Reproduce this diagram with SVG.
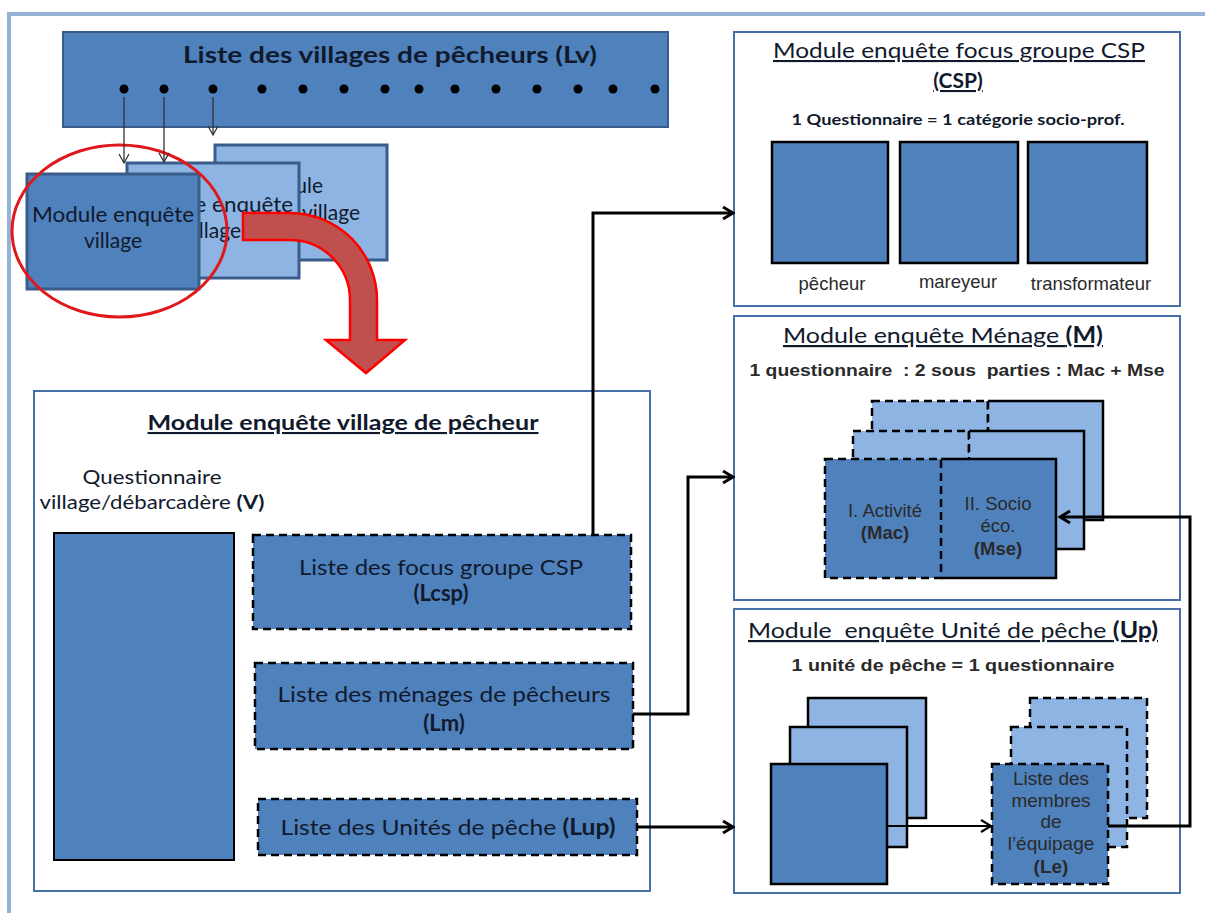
<svg xmlns="http://www.w3.org/2000/svg" width="1205" height="913" viewBox="0 0 1205 913">
<style>
.cal{font-family:Lato,"Liberation Sans",sans-serif;fill:#111a2c}
.ar{font-family:"Liberation Sans",Arial,sans-serif;fill:#2a2a2a}
.b{font-weight:bold}
.u{text-decoration:underline}
.frame{fill:#fff;stroke:#4670a8;stroke-width:2}
.dk{fill:#4f81bd}
.lt{fill:#8eb4e3}
.vb{stroke:#385d8a;stroke-width:3}
.sol{stroke:#000;stroke-width:2.5}
.dash{stroke:#000;stroke-width:2.5;stroke-dasharray:8 5}
.conn{fill:none;stroke:#000;stroke-width:3}
.thin{fill:none;stroke:#333;stroke-width:1.3}
</style>
<defs>
<marker id="ah" markerUnits="userSpaceOnUse" markerWidth="14" markerHeight="16" refX="12" refY="8" orient="auto">
<path d="M2,2 L12,8 L2,14" fill="none" stroke="#000" stroke-width="3"/>
</marker>
<marker id="ah2" markerUnits="userSpaceOnUse" markerWidth="14" markerHeight="16" refX="12" refY="8" orient="auto">
<path d="M2,2 L12,8 L2,14" fill="none" stroke="#000" stroke-width="2.2"/>
</marker>
<marker id="ahs" markerUnits="userSpaceOnUse" markerWidth="12" markerHeight="12" refX="10" refY="6" orient="auto">
<path d="M1,1 L10,6 L1,11" fill="none" stroke="#333" stroke-width="1.3"/>
</marker>
</defs>

<!-- outer frame -->
<g id="outer-frame">
<line x1="7" y1="14" x2="1205" y2="14" stroke="#95b3d7" stroke-width="4"/>
<line x1="9" y1="12" x2="9" y2="913" stroke="#95b3d7" stroke-width="4"/>
</g>

<!-- Lv bar -->
<g id="lv">
<rect x="63" y="32" width="605" height="95" class="dk" stroke="#385d8a" stroke-width="2"/>
<text x="390" y="63" text-anchor="middle" class="cal b" font-size="23" textLength="414" lengthAdjust="spacingAndGlyphs">Liste des villages de pêcheurs (Lv)</text>
<g fill="#000">
<circle cx="124" cy="89" r="4.5"/><circle cx="164" cy="89" r="4.5"/><circle cx="213" cy="89" r="4.5"/>
<circle cx="262" cy="89" r="4.5"/><circle cx="303" cy="89" r="4.5"/><circle cx="344" cy="89" r="4.5"/>
<circle cx="385" cy="89" r="4.5"/><circle cx="419" cy="89" r="4.5"/><circle cx="455" cy="89" r="4.5"/>
<circle cx="496" cy="89" r="4.5"/><circle cx="537" cy="89" r="4.5"/><circle cx="578" cy="89" r="4.5"/>
<circle cx="613" cy="89" r="4.5"/><circle cx="655" cy="89" r="4.5"/>
</g>
</g>

<!-- village module boxes -->
<g id="village-box-3">
<rect x="215" y="145" width="172" height="115" class="lt vb"/>
<text x="323" y="193" text-anchor="end" class="cal" font-size="21">Module</text>
<text x="360" y="220" text-anchor="end" class="cal" font-size="21">enquête village</text>
</g>
<g id="village-box-2">
<rect x="127" y="163" width="172" height="115" class="lt vb"/>
<text x="212" y="212" text-anchor="middle" class="cal" font-size="21" textLength="162" lengthAdjust="spacingAndGlyphs">Module enquête</text>
<text x="212" y="238" text-anchor="middle" class="cal" font-size="21">village</text>
</g>
<g id="village-box-1">
<rect x="27" y="174" width="172" height="115" class="dk vb"/>
<text x="113" y="222" text-anchor="middle" class="cal" font-size="21" textLength="162" lengthAdjust="spacingAndGlyphs">Module enquête</text>
<text x="113" y="248" text-anchor="middle" class="cal" font-size="21">village</text>
</g>
<g id="highlight-circle">
<ellipse cx="119.5" cy="231" rx="107.5" ry="86" fill="none" stroke="#e0181b" stroke-width="3"/>
</g>
<g id="red-arrow">
<path d="M243,213 L290,213 A87,87 0 0 1 377,300 L377,340 L405,340 L366,373 L326,340 L350,340 L350,300 A60,60 0 0 0 290,240 L243,240 Z" fill="#c0504d" stroke="#ff0000" stroke-width="2.5" stroke-linejoin="miter"/>
</g>

<!-- village module -->
<g id="village-module">
<rect x="34" y="391" width="616" height="500" class="frame"/>
<text x="343" y="430" text-anchor="middle" class="cal b u" font-size="21" textLength="391" lengthAdjust="spacingAndGlyphs">Module enquête village de pêcheur</text>
<text x="152" y="484" text-anchor="middle" class="cal" font-size="19" fill="#222" textLength="139" lengthAdjust="spacingAndGlyphs">Questionnaire</text>
<text x="152" y="509" text-anchor="middle" class="cal" font-size="19" textLength="225" lengthAdjust="spacingAndGlyphs">village/débarcadère <tspan class="b">(V)</tspan></text>
</g>
<g id="questionnaire-v">
<rect x="54" y="533" width="180" height="327" class="dk" stroke="#000" stroke-width="2"/>
</g>
<g id="lcsp">
<rect x="253" y="535" width="378" height="94" class="dk dash"/>
<text x="441" y="575" text-anchor="middle" class="cal" font-size="22" textLength="284" lengthAdjust="spacingAndGlyphs">Liste des focus groupe CSP</text>
<text x="441" y="601" text-anchor="middle" class="cal b" font-size="22">(Lcsp)</text>
</g>
<g id="lm">
<rect x="255" y="663" width="378" height="86" class="dk dash"/>
<text x="444" y="702" text-anchor="middle" class="cal" font-size="22" textLength="333" lengthAdjust="spacingAndGlyphs">Liste des ménages de pêcheurs</text>
<text x="444" y="731" text-anchor="middle" class="cal b" font-size="22">(Lm)</text>
</g>
<g id="lup">
<rect x="258" y="799" width="379" height="56" class="dk dash"/>
<text x="448" y="835" text-anchor="middle" class="cal" font-size="22" textLength="335" lengthAdjust="spacingAndGlyphs">Liste des Unités de pêche <tspan class="b">(Lup)</tspan></text>
</g>

<!-- CSP module -->
<g id="csp-module">
<rect x="734" y="32" width="446" height="274" class="frame"/>
<text x="959" y="58" text-anchor="middle" class="cal u" font-size="21" textLength="372" lengthAdjust="spacingAndGlyphs">Module enquête focus groupe CSP</text>
<text x="958" y="88" text-anchor="middle" class="cal b u" font-size="21">(CSP)</text>
<text x="958" y="125" text-anchor="middle" class="cal b" font-size="15.5" textLength="333" lengthAdjust="spacingAndGlyphs">1 Questionnaire = 1 catégorie socio-prof.</text>
<rect x="772" y="142" width="116" height="121" class="dk sol"/>
<rect x="900" y="142" width="118" height="121" class="dk sol"/>
<rect x="1028" y="142" width="119" height="121" class="dk sol"/>
<text x="832" y="290" text-anchor="middle" class="ar" font-size="18.5" fill="#3a3a3a">pêcheur</text>
<text x="958" y="288" text-anchor="middle" class="ar" font-size="18.5" fill="#3a3a3a">mareyeur</text>
<text x="1091" y="290" text-anchor="middle" class="ar" font-size="18.5" fill="#3a3a3a">transformateur</text>
</g>

<!-- Menage module -->
<g id="menage-module">
<rect x="734" y="316" width="446" height="284" class="frame"/>
<text x="943" y="343" text-anchor="middle" class="cal u" font-size="22" textLength="320" lengthAdjust="spacingAndGlyphs">Module enquête Ménage <tspan class="b">(M)</tspan></text>
<text x="957" y="376" text-anchor="middle" class="ar b" font-size="16" fill="#111" textLength="415" lengthAdjust="spacingAndGlyphs" style="white-space:pre">1 questionnaire  : 2 sous  parties : Mac + Mse</text>
<!-- back layer -->
<rect x="872" y="401" width="116" height="119" class="lt dash"/>
<path d="M988,401 H1103 V520 H988" class="lt sol"/>
<line x1="988" y1="401" x2="988" y2="520" class="dash"/>
<!-- middle layer -->
<rect x="853" y="431" width="116" height="118" class="lt dash"/>
<path d="M969,431 H1084 V549 H969" class="lt sol"/>
<line x1="969" y1="431" x2="969" y2="549" class="dash"/>
<!-- front layer -->
<path d="M941,459 H1056 V578 H941" class="dk sol"/>
<rect x="825" y="459" width="116" height="119" class="dk dash"/>
<text x="885" y="517" text-anchor="middle" class="ar" font-size="18.5">I. Activité</text>
<text x="885" y="539" text-anchor="middle" class="ar b" font-size="18.5">(Mac)</text>
<text x="998" y="510" text-anchor="middle" class="ar" font-size="18.5">II. Socio</text>
<text x="998" y="532" text-anchor="middle" class="ar" font-size="18.5">éco.</text>
<text x="998" y="555" text-anchor="middle" class="ar b" font-size="18.5">(Mse)</text>
</g>

<!-- Up module -->
<g id="up-module">
<rect x="734" y="609" width="446" height="284" class="frame"/>
<text x="953" y="638" text-anchor="middle" class="cal u" font-size="22" textLength="410" lengthAdjust="spacingAndGlyphs" style="white-space:pre">Module  enquête Unité de pêche <tspan class="b">(Up)</tspan></text>
<text x="953" y="671" text-anchor="middle" class="ar b" font-size="16" fill="#111" textLength="323" lengthAdjust="spacingAndGlyphs">1 unité de pêche = 1 questionnaire</text>
<rect x="808" y="698" width="118" height="120" class="lt sol"/>
<rect x="790" y="727" width="117" height="120" class="lt sol"/>
<rect x="771" y="764" width="116" height="120" class="dk sol"/>
</g>
<g id="le-stack">
<rect x="1030" y="698" width="117" height="120" class="lt dash"/>
<rect x="1011" y="727" width="116" height="120" class="lt dash"/>
<rect x="992" y="764" width="116" height="120" class="dk dash"/>
<text x="1051" y="785" text-anchor="middle" class="ar" font-size="19">Liste des</text>
<text x="1051" y="807" text-anchor="middle" class="ar" font-size="19">membres</text>
<text x="1051" y="828" text-anchor="middle" class="ar" font-size="19">de</text>
<text x="1051" y="850" text-anchor="middle" class="ar" font-size="19">l’équipage</text>
<text x="1051" y="873" text-anchor="middle" class="ar b" font-size="19">(Le)</text>
</g>

<!-- connectors -->
<g id="connectors">
<line x1="124" y1="97" x2="124" y2="163" class="thin" marker-end="url(#ahs)"/>
<line x1="164" y1="97" x2="164" y2="162" class="thin" marker-end="url(#ahs)"/>
<line x1="213" y1="97" x2="213" y2="135" class="thin" marker-end="url(#ahs)"/>
<path d="M593,535 V213 H733" class="conn" marker-end="url(#ah)"/>
<path d="M633,714 H688 V477 H733" class="conn" marker-end="url(#ah)"/>
<path d="M637,827 H733" class="conn" marker-end="url(#ah)"/>
<path d="M887,826 H991" fill="none" stroke="#000" stroke-width="2.2" marker-end="url(#ah2)"/>
<path d="M1108,826 H1190 V517 H1060" class="conn" marker-end="url(#ah)"/>
</g>
</svg>
